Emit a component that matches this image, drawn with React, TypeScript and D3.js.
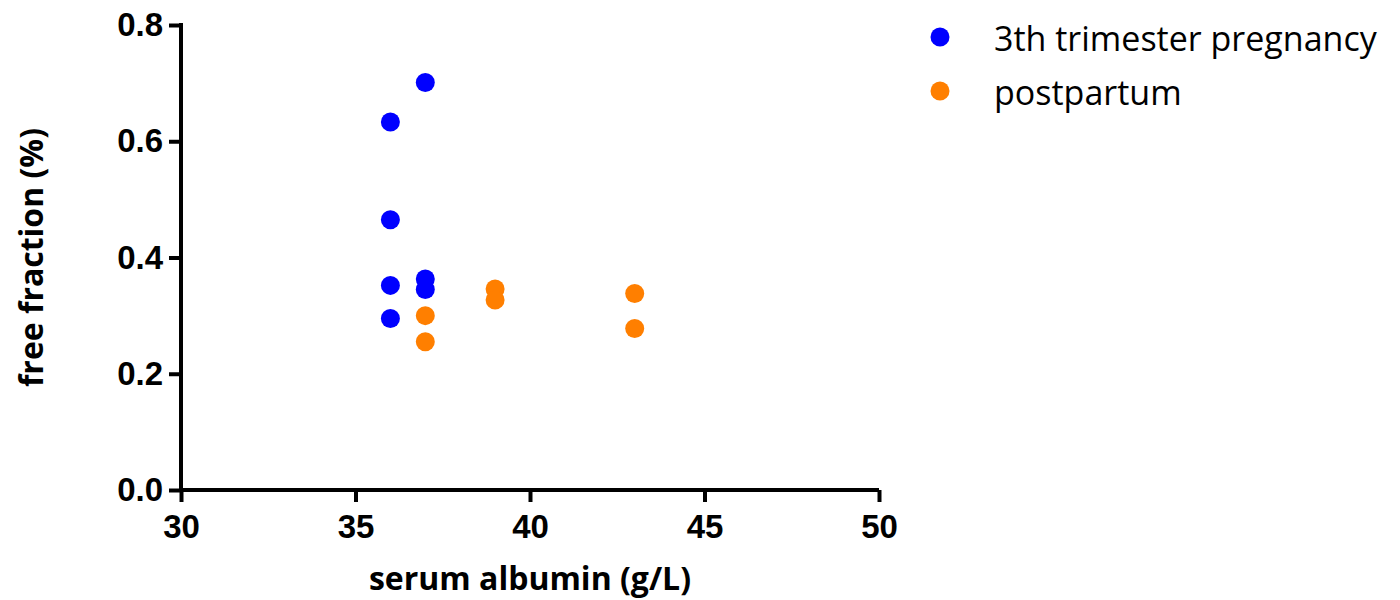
import React, { useEffect, useRef } from "react";
import * as d3 from "d3";

// values
const seriesNames = ["3th trimester pregnancy", "postpartum"];
const seriesColors = ["#0000ff", "#ff7f00"];

const pregnancyAlbumin = [36, 37, 36, 36, 37, 37, 36];
const pregnancyFree = [0.633, 0.701, 0.465, 0.352, 0.363, 0.345, 0.295];

const postpartumAlbumin = [37, 37, 39, 39, 43, 43];
const postpartumFree = [0.3, 0.255, 0.346, 0.327, 0.338, 0.278];

const xTicks = [30, 35, 40, 45, 50];
const yTicks = [0, 0.2, 0.4, 0.6, 0.8];

const W = 1400;
const H = 600;

const App = () => {
  const ref = useRef<SVGSVGElement>(null);

  useEffect(() => {
    const svg = d3.select(ref.current);
    svg.selectAll("*").remove();

    const x = d3.scaleLinear().domain([30, 50]).range([181, 879]);
    const y = d3.scaleLinear().domain([0, 0.8]).range([490, 25]);

    const tickFont = "'Liberation Sans', Arial, sans-serif";
    const titleFont = "'Open Sans', sans-serif";

    // x axis
    const gx = svg.append("g").attr("transform", `translate(0,${y(0)})`);
    gx.call(
      d3.axisBottom(x).tickValues(xTicks).tickSize(12).tickPadding(13).tickFormat(d3.format("d"))
    );
    // y axis
    const gy = svg.append("g").attr("transform", `translate(${x(30)},0)`);
    gy.call(
      d3.axisLeft(y).tickValues(yTicks).tickSize(12).tickPadding(6).tickFormat(d3.format(".1f"))
    );

    [gx, gy].forEach((g) => {
      g.select(".domain").remove();
      g.selectAll(".tick line").attr("stroke", "#000").attr("stroke-width", 4);
      g.selectAll(".tick text")
        .attr("fill", "#000")
        .style("font-family", tickFont)
        .style("font-weight", "bold")
        .style("font-size", "33px");
    });

    // axis lines drawn separately so the corner meets cleanly
    svg
      .append("line")
      .attr("x1", x(30) - 2)
      .attr("x2", x(50))
      .attr("y1", y(0))
      .attr("y2", y(0))
      .attr("stroke", "#000")
      .attr("stroke-width", 4);
    svg
      .append("line")
      .attr("x1", x(30))
      .attr("x2", x(30))
      .attr("y1", y(0))
      .attr("y2", y(0.8) - 2)
      .attr("stroke", "#000")
      .attr("stroke-width", 4);

    // titles
    svg
      .append("text")
      .attr("x", (x(30) + x(50)) / 2)
      .attr("y", 590)
      .attr("text-anchor", "middle")
      .style("font-family", titleFont)
      .style("font-weight", "bold")
      .style("font-size", "32px")
      .text("serum albumin (g/L)");
    svg
      .append("text")
      .attr("transform", `translate(43,${(y(0) + y(0.8)) / 2}) rotate(-90)`)
      .attr("text-anchor", "middle")
      .style("font-family", titleFont)
      .style("font-weight", "bold")
      .style("font-size", "32px")
      .text("free fraction (%)");

    const series = [
      { xs: pregnancyAlbumin, ys: pregnancyFree },
      { xs: postpartumAlbumin, ys: postpartumFree },
    ];
    series.forEach((s, i) => {
      svg
        .append("g")
        .selectAll("circle")
        .data(s.xs.map((v, j) => [v, s.ys[j]]))
        .enter()
        .append("circle")
        .attr("cx", (d) => x(d[0]))
        .attr("cy", (d) => y(d[1]))
        .attr("r", 9.5)
        .attr("fill", seriesColors[i]);
    });

    // legend
    const lg = svg.append("g").attr("transform", "translate(940,37)");
    seriesNames.forEach((name, i) => {
      const row = lg.append("g").attr("transform", `translate(0,${i * 54})`);
      row.append("circle").attr("r", 9.5).attr("fill", seriesColors[i]);
      row
        .append("text")
        .attr("x", 54)
        .attr("y", 14)
        .style("font-family", titleFont)
        .style("font-size", "34px")
        .attr("fill", "#000")
        .text(name);
    });
  }, []);

  return (
    <svg
      ref={ref}
      width={W}
      height={H}
      style={{ display: "block", position: "absolute", left: 0, top: 0 }}
    />
  );
};

export default App;
